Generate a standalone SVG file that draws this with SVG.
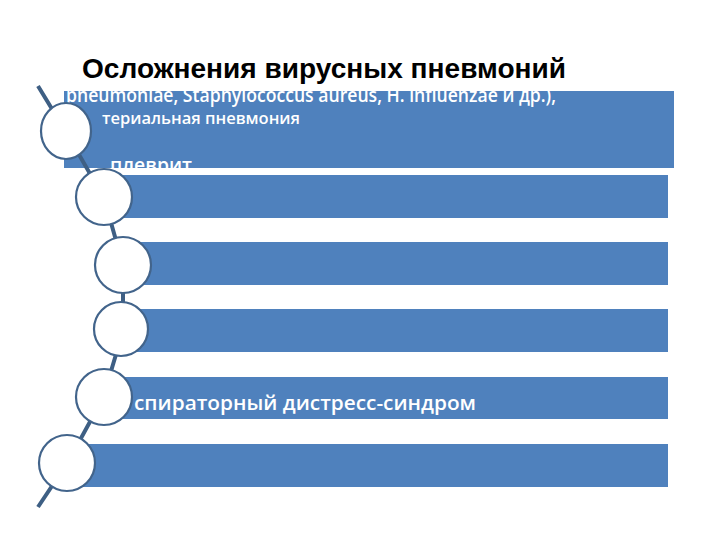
<svg xmlns="http://www.w3.org/2000/svg" width="720" height="540" viewBox="0 0 720 540">
<defs>
<style>
.bar{fill:#4f81bd}
.node{fill:#ffffff;stroke:#42648b;stroke-width:2.2}
.conn{fill:none;stroke:#3e5f84;stroke-width:4}
.title{font-family:"Liberation Sans",Arial,sans-serif;font-weight:bold;font-size:28px;fill:#000}
.t{font-family:"Open Sans","Liberation Sans",sans-serif;font-weight:600;fill:#fff}
</style>
<clipPath id="c1"><rect x="64" y="91" width="610" height="77"/></clipPath>
<clipPath id="c5"><rect x="100" y="377" width="568" height="42"/></clipPath>
</defs>
<rect width="720" height="540" fill="#fff"/>
<text class="title" x="82" y="78" textLength="484" lengthAdjust="spacingAndGlyphs">Осложнения вирусных пневмоний</text>
<g id="bars">
<rect class="bar" x="64" y="91" width="610" height="77"/>
<rect class="bar" x="100" y="175" width="568" height="43"/>
<rect class="bar" x="120" y="242" width="548" height="43"/>
<rect class="bar" x="120" y="309" width="548" height="43"/>
<rect class="bar" x="100" y="377" width="568" height="42"/>
<rect class="bar" x="66" y="444" width="602" height="43"/>
</g>
<g id="texts">
<g clip-path="url(#c1)">
<text class="t" x="66" y="102" font-size="20" textLength="490" lengthAdjust="spacingAndGlyphs">pneumoniae, Staphylococcus aureus, H. influenzae и др.),</text>
<text class="t" x="102" y="124" font-size="17" textLength="198" lengthAdjust="spacingAndGlyphs">териальная пневмония</text>
<text class="t" x="110" y="172" font-size="19" font-weight="bold" textLength="82" lengthAdjust="spacingAndGlyphs">плеврит</text>
</g>
<g clip-path="url(#c5)">
<text class="t" x="134" y="410" font-size="20" textLength="342" lengthAdjust="spacingAndGlyphs">спираторный дистресс-синдром</text>
</g>
</g>
<g id="connectors">
<polyline class="conn" points="38,86 66,132 104,198 123,265 123,331 103,398 68,462 38,507"/>
</g>
<g id="node1"><ellipse class="node" cx="66" cy="131" rx="25" ry="28"/></g>
<g id="node2"><circle class="node" cx="104" cy="197" r="28"/></g>
<g id="node3"><circle class="node" cx="123" cy="265" r="28"/></g>
<g id="node4"><circle class="node" cx="121" cy="329" r="27"/></g>
<g id="node5"><circle class="node" cx="104" cy="397" r="28"/></g>
<g id="node6"><circle class="node" cx="67" cy="463" r="28"/></g>
</svg>
